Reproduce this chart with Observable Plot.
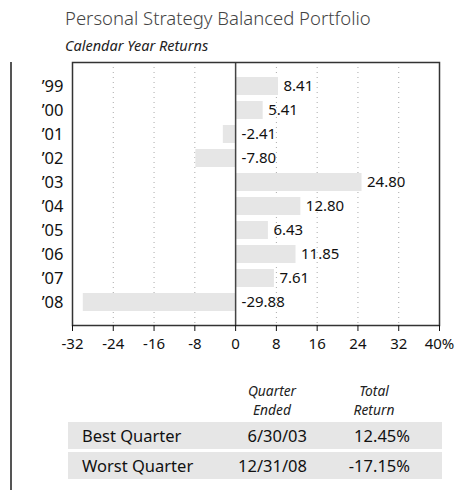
<!DOCTYPE html>
<html><head><meta charset="utf-8">
<script src="https://cdn.jsdelivr.net/npm/d3@7"></script>
<script src="https://cdn.jsdelivr.net/npm/@observablehq/plot@0.6"></script>
<style>
body{margin:0;background:#fff;font-family:"Noto Sans",sans-serif;color:#111;}
#wrap{position:relative;width:461px;height:494px;overflow:hidden;}
.abs{position:absolute;white-space:nowrap;}
.hdr{font-style:italic;font-size:13.8px;text-align:center;line-height:17px;color:#222;}
.row{position:absolute;left:68px;width:374px;height:27px;background:#e6e6e6;}
.cell{position:absolute;font-size:16.5px;line-height:27px;top:0;color:#111;}
</style></head>
<body><div id="wrap">
<div class="abs" style="left:65px;top:5px;font-size:18.5px;color:#444;font-weight:300;">Personal Strategy Balanced Portfolio</div>
<div class="abs" style="left:65px;top:35px;font-size:14.5px;font-style:italic;color:#222;">Calendar Year Returns</div>
<div class="abs" style="left:10px;top:62px;width:1.5px;height:428px;background:#555;"></div>
<div id="chart" class="abs" style="left:0;top:0;"></div>
<div id="table"></div>
</div>
<script>
const years = ["’99","’00","’01","’02","’03","’04","’05","’06","’07","’08"];
const returns = [8.41,5.41,-2.41,-7.80,24.80,12.80,6.43,11.85,7.61,-29.88];
const xTicks = [-32,-24,-16,-8,0,8,16,24,32,40];
const headers = [["Quarter","Ended"],["Total","Return"]];
const rowLabels = ["Best Quarter","Worst Quarter"];
const quarterEnded = ["6/30/03","12/31/08"];
const totalReturn = ["12.45%","-17.15%"];

const data = years.map((y,i)=>({year:y, value:returns[i]}));
const fmt = v => v.toFixed(2);
const yOpts = {domain:years, paddingInner:0.27, paddingOuter:0.49};
const tickFmt = d => d===40 ? "40%" : String(d);
const chart = Plot.plot({
  width:461, height:370,
  marginLeft:72, marginRight:22, marginTop:62, marginBottom:45,
  style:{fontFamily:"Noto Sans, sans-serif", color:"#111", background:"transparent"},
  x:{domain:[-32,40], label:null},
  y:{...yOpts, label:null},
  marks:[
    Plot.ruleX(xTicks.filter(t=>t!==0&&t!==-32&&t!==40),{stroke:"#aaa", strokeDasharray:"1,4", strokeWidth:1}),
    Plot.barX(data,{x1:0, x2:"value", y:"year", fill:"#e6e6e6"}),
    Plot.ruleX([0],{stroke:"#444", strokeWidth:1.5}),
    Plot.text(data.filter(d=>d.value>0),{x:"value", y:"year", text:d=>fmt(d.value), textAnchor:"start", dx:5, fontSize:15, fill:"#111"}),
    Plot.text(data.filter(d=>d.value<0),{x:0, y:"year", text:d=>fmt(d.value), textAnchor:"start", dx:6, fontSize:15, fill:"#111"}),
    Plot.frame({stroke:"#333", strokeWidth:1.5}),
    Plot.axisY({tickSize:0, tickPadding:9, fontSize:16.5, fill:"#111", label:null}),
    Plot.axisX({ticks:xTicks, tickSize:6, tickPadding:7, tickFormat:tickFmt, fontSize:15, fill:"#111", label:null})
  ]
});
document.getElementById("chart").append(chart);

// table
const wrap = document.getElementById("wrap");
const hdrCenters = [272, 374];
headers.forEach((h,i)=>{
  h.forEach((line,j)=>{
    const d = document.createElement("div");
    d.className = "abs hdr";
    d.style.left = (hdrCenters[i]-50)+"px"; d.style.width="100px";
    d.style.top = (382 + j*19)+"px";
    d.textContent = line;
    wrap.append(d);
  });
});
const rowTops = [422, 452];
rowLabels.forEach((lab,i)=>{
  const r = document.createElement("div");
  r.className = "row"; r.style.top = rowTops[i]+"px";
  const c1 = document.createElement("div"); c1.className="cell"; c1.style.left="14px"; c1.textContent=lab;
  const c2 = document.createElement("div"); c2.className="cell"; c2.style.right=(442-307)+"px"; c2.textContent=quarterEnded[i];
  const c3 = document.createElement("div"); c3.className="cell"; c3.style.right=(442-410)+"px"; c3.textContent=totalReturn[i];
  r.append(c1,c2,c3);
  wrap.append(r);
});
</script>
</body></html>
